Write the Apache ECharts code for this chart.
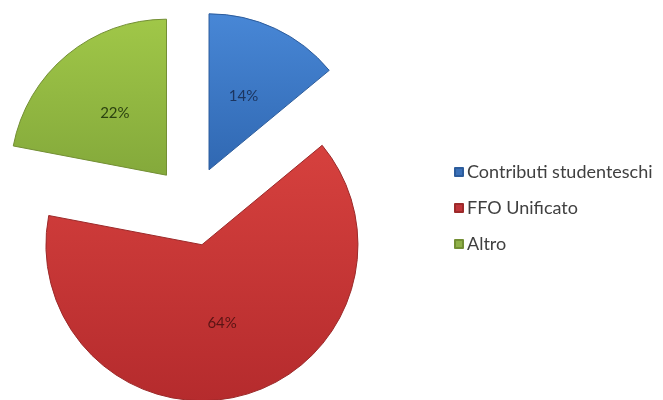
<!DOCTYPE html>
<html>
<head>
<meta charset="utf-8">
<script src="https://cdn.jsdelivr.net/npm/echarts@6/dist/echarts.min.js"></script>
<style>
  html, body { margin: 0; padding: 0; background: #ffffff; }
  #chart { width: 663px; height: 400px; }
</style>
</head>
<body>
<div id="chart"></div>
<script>
// Sources of funding, share of total (%)
const categories = ['Contributi studenteschi', 'FFO Unificato', 'Altro'];
const shares = [14, 64, 22];

// Slice fills (light top -> darker bottom), borders and label colours
const fillTop = ['#4887d6', '#d6413e', '#a0c748'];
const fillBottom = ['#3068b2', '#b52b2d', '#84a93b'];
const borders = ['#2c5c9c', '#9c2a2a', '#738f34'];
const labelColors = ['#1c3560', '#5a1414', '#2c4210'];
const legendColors = ['#3a70b8', '#c0343a', '#8fb048'];

const chart = echarts.init(document.getElementById('chart'), null, { renderer: 'canvas' });

const pieData = categories.map((name, i) => ({
  name: name,
  value: shares[i],
  selected: true,
  itemStyle: {
    color: new echarts.graphic.LinearGradient(0, 0, 0, 1, [
      { offset: 0, color: fillTop[i] },
      { offset: 1, color: fillBottom[i] }
    ]),
    borderColor: borders[i],
    borderWidth: 1
  },
  label: { color: labelColors[i] }
}));

chart.setOption({
  animation: false,
  backgroundColor: '#ffffff',
  legend: {
    orient: 'vertical',
    left: 449,
    top: 158,
    itemWidth: 8,
    itemHeight: 8,
    itemGap: 18,
    icon: 'rect',
    selectedMode: false,
    data: categories.map((name, i) => ({
      name: name,
      itemStyle: { color: legendColors[i] }
    })),
    textStyle: {
      fontFamily: 'Lato',
      fontSize: 18,
      lineHeight: 16,
      color: '#404040',
      padding: [0, 0, 0, -1]
    }
  },
  series: [{
    type: 'pie',
    center: [192, 206],
    radius: [0, 156],
    startAngle: 90,
    clockwise: true,
    selectedMode: 'multiple',
    selectedOffset: 40,
    avoidLabelOverlap: false,
    emphasis: { disabled: true },
    label: {
      show: true,
      position: 'inside',
      formatter: '{d}%',
      fontFamily: 'Lato',
      fontSize: 15
    },
    labelLine: { show: false },
    data: pieData
  }]
});
</script>
</body>
</html>
